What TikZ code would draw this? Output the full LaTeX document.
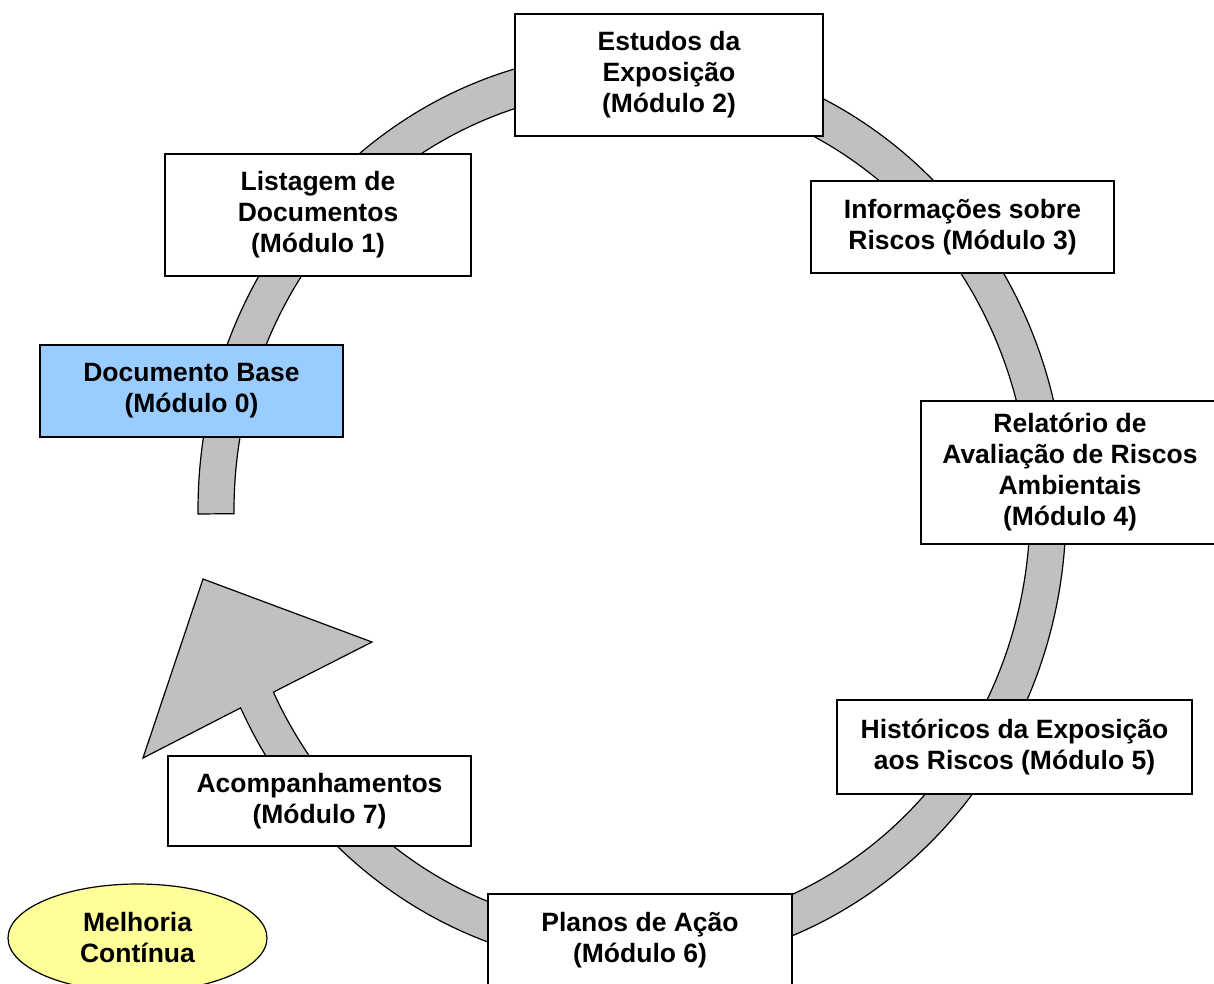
\documentclass[tikz,border=0pt]{standalone}
\usepackage{fontspec}
\setmainfont{Liberation Sans}
\usepackage{tikz}
\usetikzlibrary{shapes.geometric}
\definecolor{bandgray}{HTML}{C0C0C0}
\definecolor{basefill}{HTML}{99CCFF}
\definecolor{melfill}{HTML}{FFFF99}

\begin{document}
\begin{tikzpicture}[x=1pt,y=1pt]
	\tikzstyle{every node}+=[inner sep=0pt, align=center, font=\bfseries\fontsize{26.5}{31}\selectfont]
	\tikzstyle{modbox}=[draw=black, fill=white, line width=1.2pt]
	\useasboundingbox (0,0) rectangle (1214,-983);
	\coordinate (ctr) at (632,-510);
	\filldraw [fill=bandgray, draw=black, line width=1.2pt, shift={(ctr)}] (180.5:434 and 458) arc [start angle=180.5, end angle=-154.4, x radius=434, y radius=458] -- (-489,-248) -- (-429,-69) -- (-260,-132) -- (-154.3:398 and 420) arc [start angle=-154.3, end angle=180.5, x radius=398, y radius=420] -- cycle;
	\node [modbox, minimum width=308pt, minimum height=122pt] (m2) at (669,-75) {Estudos da\\Exposição\\(Módulo 2)};
	\node [modbox, minimum width=306pt, minimum height=122pt] (m1) at (318,-215) {Listagem de\\Documentos\\(Módulo 1)};
	\node [modbox, minimum width=303pt, minimum height=92pt] (m3) at (962.5,-227) {Informações sobre\\Riscos (Módulo 3)};
	\node [modbox, fill=basefill, minimum width=303pt, minimum height=92pt] (m0) at (191.5,-391) {Documento Base\\(Módulo 0)};
	\node [modbox, minimum width=298pt, minimum height=143pt] (m4) at (1070,-472.5) {Relatório de\\Avaliação de Riscos\\Ambientais\\(Módulo 4)};
	\node [modbox, minimum width=355pt, minimum height=94pt] (m5) at (1014.5,-747) {Históricos da Exposição\\aos Riscos (Módulo 5)};
	\node [modbox, minimum width=303pt, minimum height=90pt] (m7) at (319.5,-801) {Acompanhamentos\\(Módulo 7)};
	\node [modbox, minimum width=304pt, minimum height=92pt] (m6) at (640,-940) {Planos de Ação\\(Módulo 6)};
	\node [ellipse, draw=black, fill=melfill, line width=1.2pt, minimum width=259pt, minimum height=108pt] (melhoria) at (137.5,-938) {Melhoria\\Contínua};
\end{tikzpicture}
\end{document}
